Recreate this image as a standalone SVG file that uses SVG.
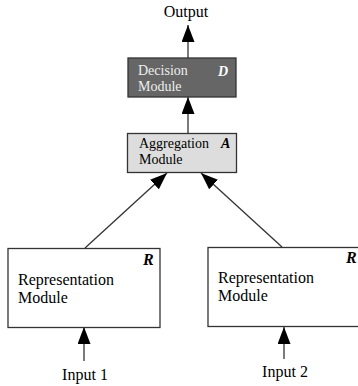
<svg xmlns="http://www.w3.org/2000/svg" width="358" height="386" viewBox="0 0 358 386">
<style>
text{font-family:"Liberation Serif","Times New Roman",serif;fill:#000}
.lbl{font-size:16px}
.m{font-size:14px}
.r{font-size:16px}
.tag{font-weight:bold;font-style:italic}
.box{stroke:#333;stroke-width:1.3}
.ln{stroke:#333;stroke-width:1.3;fill:none}
</style>
<defs>
<marker id="ah" markerUnits="userSpaceOnUse" markerWidth="18" markerHeight="13" refX="17" refY="6.5" orient="auto">
<path d="M0,0 L17,6.5 L0,13 z" fill="#000"/>
</marker>
</defs>
<rect width="358" height="386" fill="#fff"/>
<g id="connectors">
<line class="ln" x1="188" y1="58" x2="188" y2="25" marker-end="url(#ah)"/>
<line class="ln" x1="188" y1="133" x2="188" y2="97" marker-end="url(#ah)"/>
<line class="ln" x1="85" y1="248" x2="167" y2="173" marker-end="url(#ah)"/>
<line class="ln" x1="282" y1="247" x2="201" y2="173" marker-end="url(#ah)"/>
<line class="ln" x1="84" y1="361" x2="84" y2="327" marker-end="url(#ah)"/>
<line class="ln" x1="284" y1="359" x2="284" y2="327" marker-end="url(#ah)"/>
</g>
<g id="output"><text class="lbl" x="186" y="17" text-anchor="middle">Output</text></g>
<g id="decision">
<rect class="box" x="128" y="58" width="108" height="39" fill="#666"/>
<text class="m" x="138" y="75" style="fill:#eee">Decision</text>
<text class="m" x="138" y="91" style="fill:#eee">Module</text>
<text class="m tag" x="218" y="76" style="fill:#fff">D</text>
</g>
<g id="aggregation">
<rect class="box" x="127.5" y="133.5" width="109" height="39" fill="#ddd"/>
<text class="m" x="139" y="148">Aggregation</text>
<text class="m" x="139" y="164">Module</text>
<text class="m tag" x="221" y="148">A</text>
</g>
<g id="rep1">
<rect class="box" x="8" y="248.5" width="152" height="79" fill="#fff"/>
<text class="r" x="18" y="285">Representation</text>
<text class="r" x="18" y="302.5">Module</text>
<text class="r tag" x="143" y="265">R</text>
</g>
<g id="rep2">
<rect class="box" x="208" y="247.5" width="160" height="79" fill="#fff"/>
<text class="r" x="218" y="283">Representation</text>
<text class="r" x="218" y="300.5">Module</text>
<text class="r tag" x="346" y="263">R</text>
</g>
<g id="input1"><text class="lbl" x="85" y="380" text-anchor="middle">Input 1</text></g>
<g id="input2"><text class="lbl" x="285" y="377" text-anchor="middle">Input 2</text></g>
</svg>
